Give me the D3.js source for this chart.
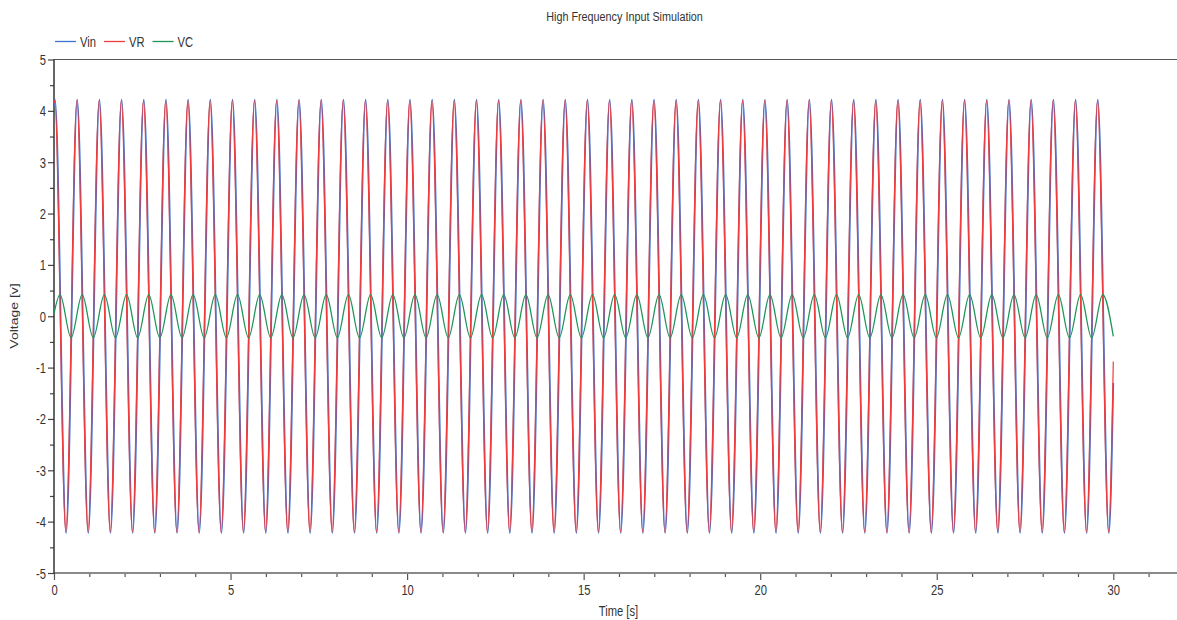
<!DOCTYPE html>
<html>
<head>
<meta charset="utf-8">
<script src="https://cdn.jsdelivr.net/npm/d3@7"></script>
<style>
  body { margin: 0; background: #fff; }
  svg { display: block; }
  text { font-family: "Liberation Sans", Arial, Helvetica, sans-serif; fill: #333; }
</style>
</head>
<body>
<svg id="chart" width="1177" height="620"></svg>
<script>
// ---- simulation output: turning points of each waveform (time in s, voltage in V) ----
const seriesNames = ["Vin", "VR", "VC"];

const vinTimes = [0,
  0.030, 0.344, 0.658, 0.972, 1.287, 1.601, 1.915, 2.229, 2.543, 2.857, 3.172, 3.486,
  3.800, 4.114, 4.428, 4.742, 5.057, 5.371, 5.685, 5.999, 6.313, 6.627, 6.942, 7.256,
  7.570, 7.884, 8.198, 8.512, 8.826, 9.141, 9.455, 9.769, 10.083, 10.397, 10.711, 11.026,
  11.340, 11.654, 11.968, 12.282, 12.596, 12.911, 13.225, 13.539, 13.853, 14.167, 14.481, 14.795,
  15.110, 15.424, 15.738, 16.052, 16.366, 16.680, 16.995, 17.309, 17.623, 17.937, 18.251, 18.565,
  18.880, 19.194, 19.508, 19.822, 20.136, 20.450, 20.765, 21.079, 21.393, 21.707, 22.021, 22.335,
  22.649, 22.964, 23.278, 23.592, 23.906, 24.220, 24.534, 24.849, 25.163, 25.477, 25.791, 26.105,
  26.419, 26.734, 27.048, 27.362, 27.676, 27.990, 28.304, 28.618, 28.933, 29.247, 29.561, 29.875,
  30];
const vinVolts = [4.10,
  4.22, -4.22, 4.22, -4.22, 4.22, -4.22, 4.22, -4.22, 4.22, -4.22, 4.22, -4.22,
  4.22, -4.22, 4.22, -4.22, 4.22, -4.22, 4.22, -4.22, 4.22, -4.22, 4.22, -4.22,
  4.22, -4.22, 4.22, -4.22, 4.22, -4.22, 4.22, -4.22, 4.22, -4.22, 4.22, -4.22,
  4.22, -4.22, 4.22, -4.22, 4.22, -4.22, 4.22, -4.22, 4.22, -4.22, 4.22, -4.22,
  4.22, -4.22, 4.22, -4.22, 4.22, -4.22, 4.22, -4.22, 4.22, -4.22, 4.22, -4.22,
  4.22, -4.22, 4.22, -4.22, 4.22, -4.22, 4.22, -4.22, 4.22, -4.22, 4.22, -4.22,
  4.22, -4.22, 4.22, -4.22, 4.22, -4.22, 4.22, -4.22, 4.22, -4.22, 4.22, -4.22,
  4.22, -4.22, 4.22, -4.22, 4.22, -4.22, 4.22, -4.22, 4.22, -4.22, 4.22, -4.22,
  -1.30];

const vrTimes = [0,
  0.020, 0.334, 0.648, 0.962, 1.277, 1.591, 1.905, 2.219, 2.533, 2.847, 3.162, 3.476,
  3.790, 4.104, 4.418, 4.732, 5.047, 5.361, 5.675, 5.989, 6.303, 6.617, 6.932, 7.246,
  7.560, 7.874, 8.188, 8.502, 8.816, 9.131, 9.445, 9.759, 10.073, 10.387, 10.701, 11.016,
  11.330, 11.644, 11.958, 12.272, 12.586, 12.901, 13.215, 13.529, 13.843, 14.157, 14.471, 14.785,
  15.100, 15.414, 15.728, 16.042, 16.356, 16.670, 16.985, 17.299, 17.613, 17.927, 18.241, 18.555,
  18.870, 19.184, 19.498, 19.812, 20.126, 20.440, 20.755, 21.069, 21.383, 21.697, 22.011, 22.325,
  22.639, 22.954, 23.268, 23.582, 23.896, 24.210, 24.524, 24.839, 25.153, 25.467, 25.781, 26.095,
  26.409, 26.724, 27.038, 27.352, 27.666, 27.980, 28.294, 28.608, 28.923, 29.237, 29.551, 29.865,
  30];
const vrVolts = [4.15,
  4.20, -4.20, 4.20, -4.20, 4.20, -4.20, 4.20, -4.20, 4.20, -4.20, 4.20, -4.20,
  4.20, -4.20, 4.20, -4.20, 4.20, -4.20, 4.20, -4.20, 4.20, -4.20, 4.20, -4.20,
  4.20, -4.20, 4.20, -4.20, 4.20, -4.20, 4.20, -4.20, 4.20, -4.20, 4.20, -4.20,
  4.20, -4.20, 4.20, -4.20, 4.20, -4.20, 4.20, -4.20, 4.20, -4.20, 4.20, -4.20,
  4.20, -4.20, 4.20, -4.20, 4.20, -4.20, 4.20, -4.20, 4.20, -4.20, 4.20, -4.20,
  4.20, -4.20, 4.20, -4.20, 4.20, -4.20, 4.20, -4.20, 4.20, -4.20, 4.20, -4.20,
  4.20, -4.20, 4.20, -4.20, 4.20, -4.20, 4.20, -4.20, 4.20, -4.20, 4.20, -4.20,
  4.20, -4.20, 4.20, -4.20, 4.20, -4.20, 4.20, -4.20, 4.20, -4.20, 4.20, -4.20,
  -0.88];

const vcTimes = [0,
  0.170, 0.484, 0.798, 1.112, 1.427, 1.741, 2.055, 2.369, 2.683, 2.997, 3.312, 3.626,
  3.940, 4.254, 4.568, 4.882, 5.197, 5.511, 5.825, 6.139, 6.453, 6.767, 7.082, 7.396,
  7.710, 8.024, 8.338, 8.652, 8.966, 9.281, 9.595, 9.909, 10.223, 10.537, 10.851, 11.166,
  11.480, 11.794, 12.108, 12.422, 12.736, 13.051, 13.365, 13.679, 13.993, 14.307, 14.621, 14.935,
  15.250, 15.564, 15.878, 16.192, 16.506, 16.820, 17.135, 17.449, 17.763, 18.077, 18.391, 18.705,
  19.020, 19.334, 19.648, 19.962, 20.276, 20.590, 20.905, 21.219, 21.533, 21.847, 22.161, 22.475,
  22.789, 23.104, 23.418, 23.732, 24.046, 24.360, 24.674, 24.989, 25.303, 25.617, 25.931, 26.245,
  26.559, 26.874, 27.188, 27.502, 27.816, 28.130, 28.444, 28.758, 29.073, 29.387, 29.701,
  30];
const vcVolts = [0.05,
  0.42, -0.42, 0.42, -0.42, 0.42, -0.42, 0.42, -0.42, 0.42, -0.42, 0.42, -0.42,
  0.42, -0.42, 0.42, -0.42, 0.42, -0.42, 0.42, -0.42, 0.42, -0.42, 0.42, -0.42,
  0.42, -0.42, 0.42, -0.42, 0.42, -0.42, 0.42, -0.42, 0.42, -0.42, 0.42, -0.42,
  0.42, -0.42, 0.42, -0.42, 0.42, -0.42, 0.42, -0.42, 0.42, -0.42, 0.42, -0.42,
  0.42, -0.42, 0.42, -0.42, 0.42, -0.42, 0.42, -0.42, 0.42, -0.42, 0.42, -0.42,
  0.42, -0.42, 0.42, -0.42, 0.42, -0.42, 0.42, -0.42, 0.42, -0.42, 0.42, -0.42,
  0.42, -0.42, 0.42, -0.42, 0.42, -0.42, 0.42, -0.42, 0.42, -0.42, 0.42, -0.42,
  0.42, -0.42, 0.42, -0.42, 0.42, -0.42, 0.42, -0.42, 0.42, -0.42, 0.42,
  -0.39];

// ---- axis ticks ----
const yMajorTicks = [-5, -4, -3, -2, -1, 0, 1, 2, 3, 4, 5];
const yMinorTicks = [-4.5, -3.5, -2.5, -1.5, -0.5, 0.5, 1.5, 2.5, 3.5, 4.5];
const xMajorTicks = [0, 5, 10, 15, 20, 25, 30];
const xMinorTicks = [1, 2, 3, 4, 6, 7, 8, 9, 11, 12, 13, 14, 16, 17, 18, 19,
                     21, 22, 23, 24, 26, 27, 28, 29, 31];

const titleText = "High Frequency Input Simulation";
const xTitle = "Time [s]";
const yTitle = "Voltage [v]";

// ---- layout & styling ----
const W = 1177, H = 620;
const plot = { left: 54, top: 59.5, bottom: 573 };
const pxPerSecond = 35.31;
const squeeze = 0.8;          // horizontal compression of the lettering
const colors = { Vin: "#3d72d2", VR: "#f03c3c", VC: "#1f9459" };

const svg = d3.select("#chart");

const x = d3.scaleLinear().domain([0, 32]).range([plot.left, plot.left + 32 * pxPerSecond]);
const y = d3.scaleLinear().domain([-5, 5]).range([plot.bottom, plot.top]);

function squeezedText(parent, px, py, str, size, anchor, extra) {
  return parent.append("text")
    .attr("transform", `translate(${px},${py}) scale(${squeeze},1)` + (extra || ""))
    .attr("text-anchor", anchor)
    .style("font-size", size + "px")
    .text(str);
}

// clip region for the traces
svg.append("defs").append("clipPath").attr("id", "plotClip")
  .append("rect")
  .attr("x", plot.left).attr("y", plot.top - 5)
  .attr("width", W - plot.left).attr("height", plot.bottom - plot.top + 10);

// ---- axes ----
const yAxisMajor = d3.axisLeft(y).tickValues(yMajorTicks).tickSize(6).tickPadding(0)
  .tickFormat(d => String(d));
const yAxisMinor = d3.axisLeft(y).tickValues(yMinorTicks).tickSize(4).tickFormat("");
const xAxisMajor = d3.axisBottom(x).tickValues(xMajorTicks).tickSize(7).tickPadding(0)
  .tickFormat(d => String(d));
const xAxisMinor = d3.axisBottom(x).tickValues(xMinorTicks).tickSize(4).tickFormat("");

const gy = svg.append("g").attr("transform", `translate(${plot.left},0)`);
gy.append("g").call(yAxisMinor);
gy.append("g").call(yAxisMajor);
gy.selectAll(".domain").remove();
gy.selectAll("line").attr("stroke", "#444").attr("stroke-width", 1.2);
gy.selectAll("text")
  .attr("x", null).attr("dy", null)
  .attr("transform", `translate(-8,5) scale(${squeeze},1)`)
  .attr("text-anchor", "end")
  .attr("fill", "#333")
  .style("font-size", "14px")
  .style("font-family", null);

const gx = svg.append("g").attr("transform", `translate(0,${plot.bottom})`);
gx.append("g").call(xAxisMinor);
gx.append("g").call(xAxisMajor);
gx.selectAll(".domain").remove();
gx.selectAll("line").attr("stroke", "#555").attr("stroke-width", 1.2);
gx.selectAll("text")
  .attr("y", null).attr("dy", null)
  .attr("transform", `translate(0,22) scale(${squeeze},1)`)
  .attr("text-anchor", "middle")
  .attr("fill", "#333")
  .style("font-size", "14px")
  .style("font-family", null);

// frame lines: top border, bottom axis, left axis
svg.append("line")
  .attr("x1", plot.left).attr("x2", W).attr("y1", plot.top).attr("y2", plot.top)
  .attr("stroke", "#555").attr("stroke-width", 1.2);
svg.append("line")
  .attr("x1", plot.left).attr("x2", W).attr("y1", plot.bottom).attr("y2", plot.bottom)
  .attr("stroke", "#8a8a8a").attr("stroke-width", 2);
svg.append("line")
  .attr("x1", plot.left).attr("x2", plot.left).attr("y1", plot.top).attr("y2", plot.bottom + 1)
  .attr("stroke", "#333").attr("stroke-width", 1.5);

// ---- traces ----
const traces = [
  { name: "Vin", points: d3.zip(vinTimes, vinVolts), width: 1.7 },
  { name: "VR",  points: d3.zip(vrTimes, vrVolts),   width: 1.2 },
  { name: "VC",  points: d3.zip(vcTimes, vcVolts),   width: 1.3 }
];

const line = d3.line()
  .x(d => x(d[0]))
  .y(d => y(d[1]))
  .curve(d3.curveMonotoneX);

svg.append("g").attr("clip-path", "url(#plotClip)")
  .selectAll("path")
  .data(traces)
  .join("path")
  .attr("d", d => line(d.points))
  .attr("fill", "none")
  .attr("stroke", d => colors[d.name])
  .attr("stroke-width", d => d.width)
  .attr("stroke-linejoin", "round");

// ---- titles ----
squeezedText(svg, 624.5, 21, titleText, 13.5, "middle");
squeezedText(svg, 618.5, 616, xTitle, 14, "middle");
svg.append("text")
  .attr("transform", `translate(18,316) scale(${squeeze},1) rotate(-90)`)
  .attr("text-anchor", "middle")
  .style("font-size", "14px")
  .text(yTitle);

// ---- legend ----
const legend = svg.append("g");
let lx = 55;
seriesNames.forEach(name => {
  legend.append("line")
    .attr("x1", lx).attr("x2", lx + 21)
    .attr("y1", 41.5).attr("y2", 41.5)
    .attr("stroke", colors[name]).attr("stroke-width", 1.3);
  const t = squeezedText(legend, lx + 25, 46.5, name, 14, "start");
  lx += 25 + t.node().getComputedTextLength() * squeeze + 8;
});
</script>
</body>
</html>
